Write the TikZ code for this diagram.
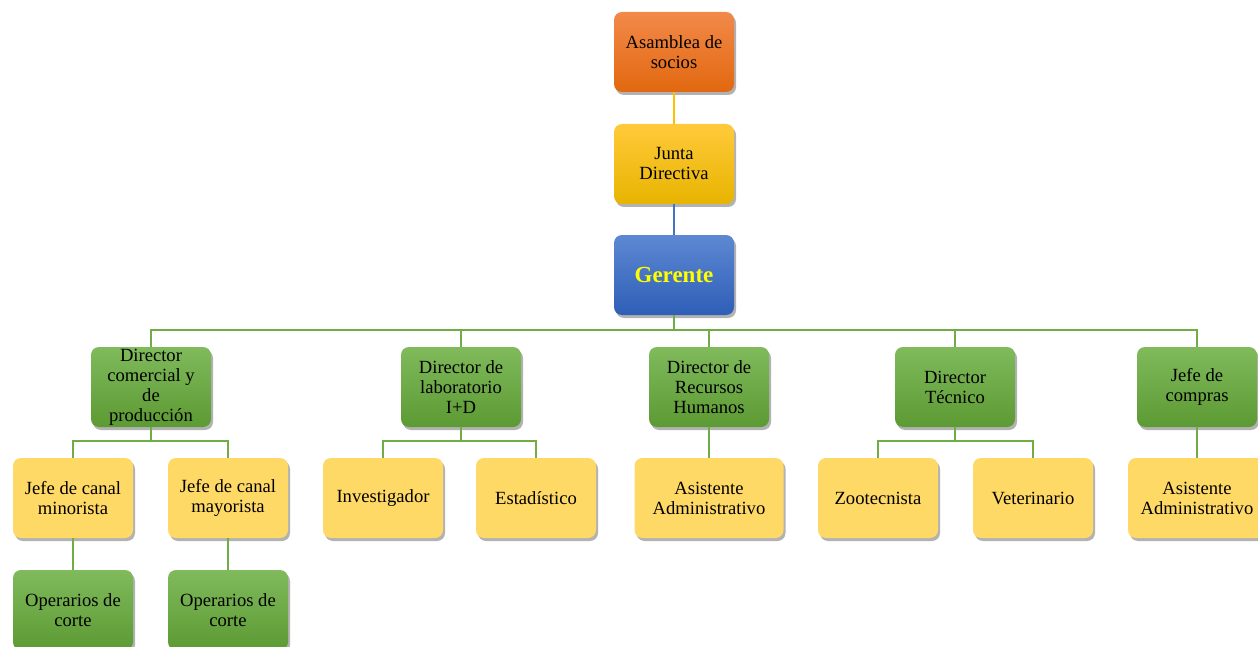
\documentclass[tikz,border=0pt]{standalone}
\usepackage{fontspec}
\setmainfont{Liberation Serif}
\usetikzlibrary{shadows}
\definecolor{orgA}{HTML}{F2894A}
\definecolor{orgB}{HTML}{E2680F}
\definecolor{goldA}{HTML}{FFCA3A}
\definecolor{goldB}{HTML}{E8B400}
\definecolor{blueA}{HTML}{5D88D2}
\definecolor{blueB}{HTML}{2E5EB7}
\definecolor{grnA}{HTML}{80BA5C}
\definecolor{grnB}{HTML}{5C9A33}
\definecolor{paleY}{HTML}{FFD966}
\definecolor{lineG}{HTML}{70AD47}
\definecolor{lineY}{HTML}{FFC000}
\definecolor{lineB}{HTML}{4472C4}
\tikzset{
  box/.style={rectangle, rounded corners=8pt, minimum width=120pt, minimum height=80pt,
    inner sep=0pt, align=center, font=\fontsize{18.6}{20}\selectfont,
    drop shadow={shadow xshift=2pt, shadow yshift=-3pt, opacity=0.3, fill=black}},
  orangebox/.style={box, top color=orgA, bottom color=orgB},
  goldbox/.style={box, top color=goldA, bottom color=goldB},
  bluebox/.style={box, top color=blueA, bottom color=blueB},
  greenbox/.style={box, top color=grnA, bottom color=grnB},
  palebox/.style={box, fill=paleY},
  link/.style={line width=2.5pt, draw=lineG},
}
\begin{document}
\begin{tikzpicture}[x=1pt,y=-1pt]
\clip (0,0) rectangle (1258,647);
\fill[white] (0,0) rectangle (1258,647);

% top of the hierarchy
\node[orangebox] (asamblea) at (674,52) {Asamblea de\\socios};
\node[goldbox] (junta) at (674,164) {Junta\\Directiva};
\node[bluebox, font=\fontsize{23}{26}\selectfont\bfseries, text={rgb,255:red,255;green,255;blue,0}] (gerente) at (674,275) {Gerente};

% directors
\node[greenbox] (dcom) at (151,387) {Director\\comercial y\\de\\producción};
\node[greenbox] (dlab) at (461,387) {Director de\\laboratorio\\I+D};
\node[greenbox] (drh) at (709,387) {Director de\\Recursos\\Humanos};
\node[greenbox] (dtec) at (955,387) {Director\\Técnico};
\node[greenbox] (jcom) at (1197,387) {Jefe de\\compras};

% third level
\node[palebox] (jmin) at (73,498) {Jefe de canal\\minorista};
\node[palebox] (jmay) at (228,498) {Jefe de canal\\mayorista};
\node[palebox] (inv) at (383,498) {Investigador};
\node[palebox] (est) at (536,498) {Estadístico};
\node[palebox, minimum width=149pt] (asis1) at (709,498) {Asistente\\Administrativo};
\node[palebox] (zoo) at (878,498) {Zootecnista};
\node[palebox] (vet) at (1033,498) {Veterinario};
\node[palebox, minimum width=138pt] (asis2) at (1197,498) {Asistente\\Administrativo};

% fourth level
\node[greenbox] (op1) at (73,610) {Operarios de\\corte};
\node[greenbox] (op2) at (228,610) {Operarios de\\corte};

% connectors
\draw[line width=2.5pt, draw=lineY] (asamblea.south) -- (junta.north);
\draw[line width=2.5pt, draw=lineB] (junta.south) -- (gerente.north);
\foreach \d in {dcom,dlab,drh,dtec,jcom}
  \draw[link] (gerente.south) -- ++(0,15) -| (\d.north);
\foreach \p/\c in {dcom/jmin,dcom/jmay,dlab/inv,dlab/est,dtec/zoo,dtec/vet}
  \draw[link] (\p.south) -- ++(0,14) -| (\c.north);
\draw[link] (drh.south) -- (asis1.north);
\draw[link] (jcom.south) -- (asis2.north);
\draw[link] (jmin.south) -- (op1.north);
\draw[link] (jmay.south) -- (op2.north);
\end{tikzpicture}
\end{document}
